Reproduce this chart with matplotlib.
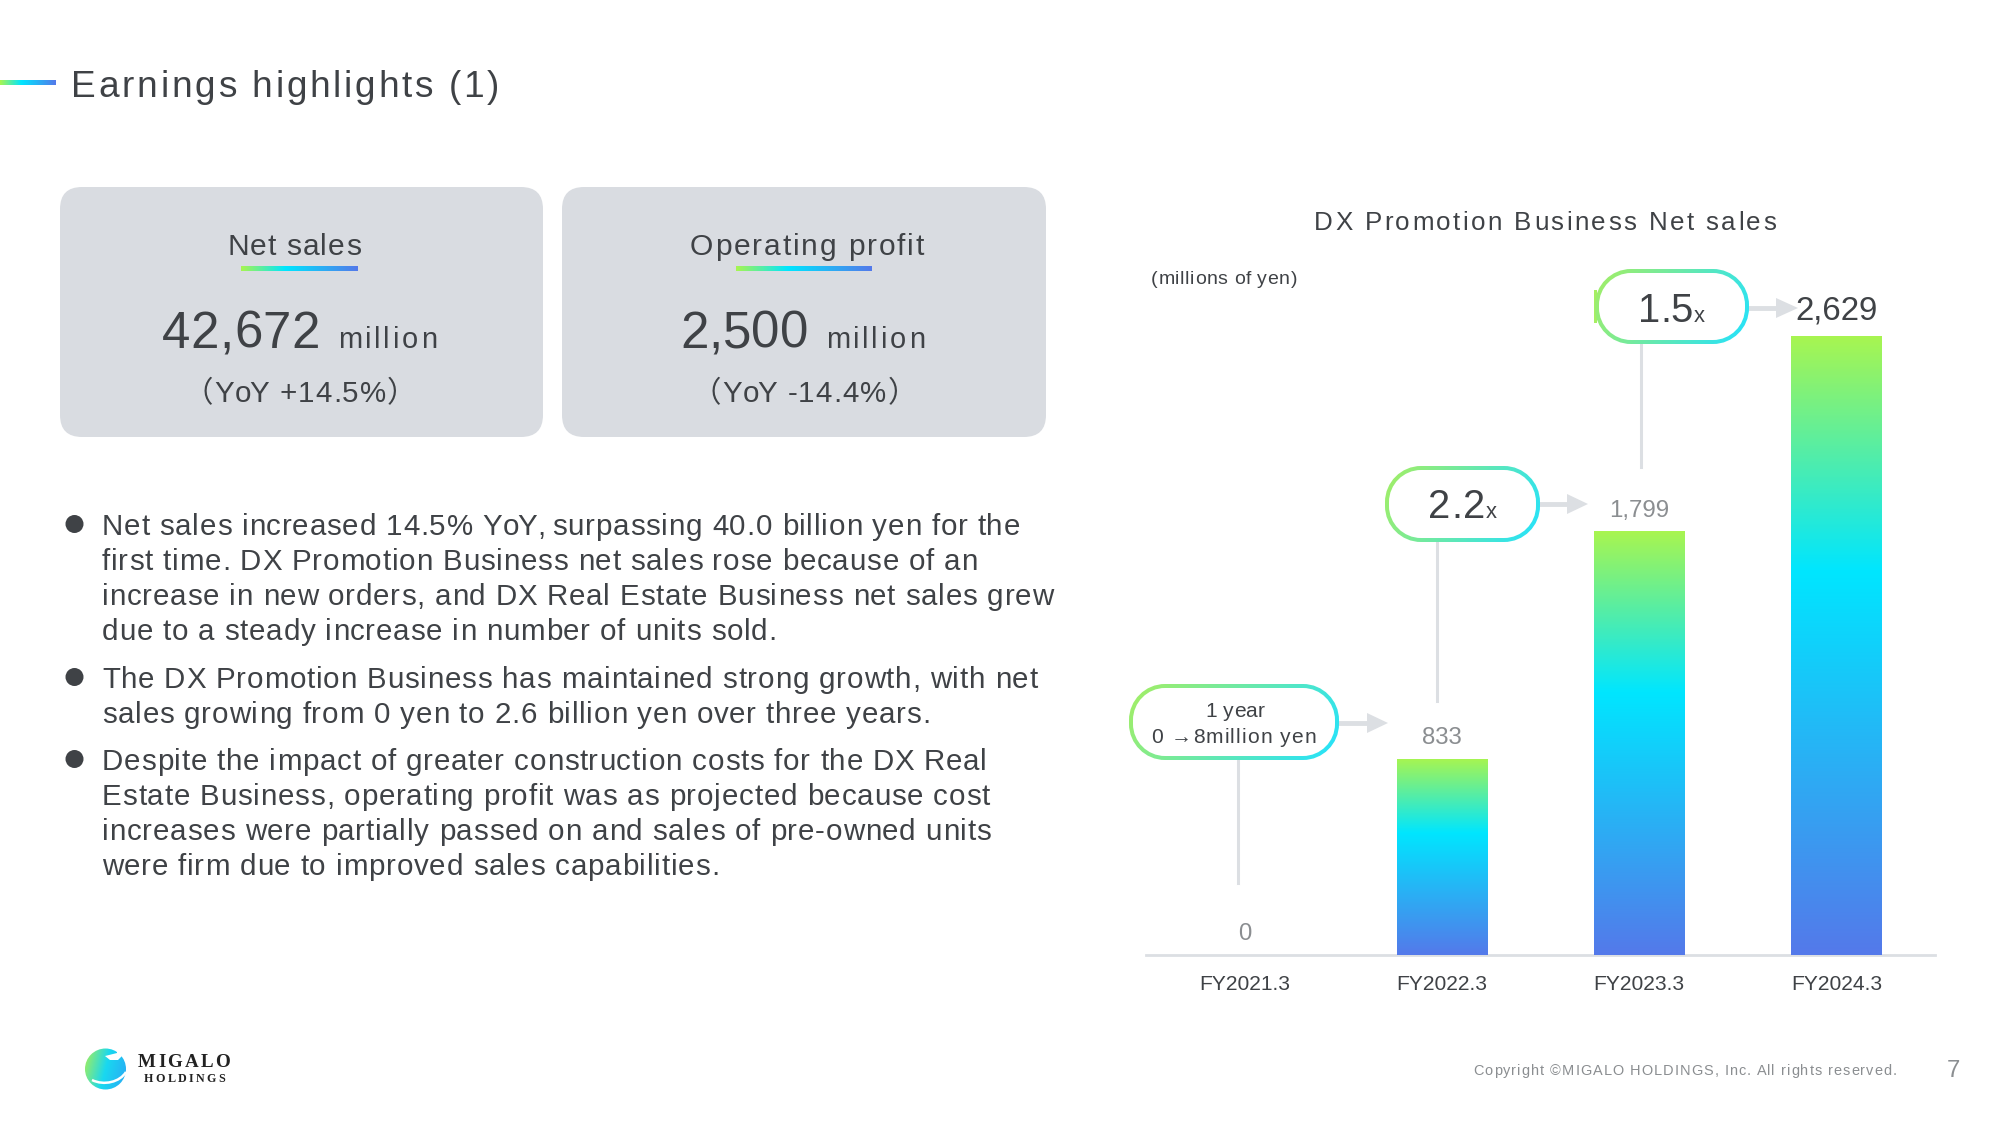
#!/usr/bin/env python3
"""
Earnings highlights slide: DX Promotion net sales bars plus the text panels
Layout is worked out in slide pixels (2000x1125), the bars use their own axes
"""
import numpy as np
import matplotlib
matplotlib.use('Agg')
import matplotlib.pyplot as plt
from matplotlib.colors import LinearSegmentedColormap
from matplotlib.patches import FancyBboxPatch, Circle, Polygon, PathPatch
from matplotlib.path import Path
from matplotlib.text import Text
from matplotlib.transforms import IdentityTransform

# chart data
years = ['FY2021.3', 'FY2022.3', 'FY2023.3', 'FY2024.3']
net_sales = [0, 833, 1799, 2629]
sales_labels = ['0', '833', '1,799', '2,629']

# slide text
title = 'Earnings highlights (1)'
chart_title = 'DX Promotion Business Net sales'
unit_label = '(millions of yen)'
copyright_text = 'Copyright ©MIGALO HOLDINGS, Inc. All rights reserved.'
page_no = '7'
bullet_lines = [
    ['Net sales increased 14.5% YoY, surpassing 40.0 billion yen for the',
     'first time. DX Promotion Business net sales rose because of an',
     'increase in new orders, and DX Real Estate Business net sales grew',
     'due to a steady increase in number of units sold.'],
    ['The DX Promotion Business has maintained strong growth, with net',
     'sales growing from 0 yen to 2.6 billion yen over three years.'],
    ['Despite the impact of greater construction costs for the DX Real',
     'Estate Business, operating profit was as projected because cost',
     'increases were partially passed on and sales of pre-owned units',
     'were firm due to improved sales capabilities.'],
]

DARK = '#3f4246'
GREY = '#8b8e91'
PALE = '#dcdfe3'
CARD = '#d9dce1'
FONT = 'Liberation Sans'

rainbow = LinearSegmentedColormap.from_list(
    'rainbow', [(0, '#a8f550'), (0.38, '#00e6ff'), (1, '#5479ea')])
edge_map = LinearSegmentedColormap.from_list('edge', ['#a6ef62', '#22e2ff'])


def px(size):
    # font size from slide pixels
    return size * 0.72


class TrackedText(Text):
    """Text with letter spacing, the slide font is set with wide tracking"""

    def __init__(self, *args, track=0, width=None, **kwargs):
        super().__init__(*args, **kwargs)
        self.track = track
        self.width = width

    def draw(self, renderer):
        s = self.get_text()
        prop = self.get_fontproperties()

        def measure(t):
            return renderer.get_text_width_height_descent(t, prop, False)[0]

        gap = self.track
        if self.width is not None:
            gap = (self.width - measure(s)) / (len(s) - 1)
        total = measure(s) + gap * (len(s) - 1)
        x, y = self.get_transform().transform(self.get_position())
        if self.get_horizontalalignment() == 'center':
            x -= total / 2
        bar_w = measure('|')
        for i, ch in enumerate(s):
            # the bar keeps trailing spaces in the measured width
            offset = measure(s[:i] + '|') - bar_w if i else 0
            piece = Text(x + offset + i * gap, y, ch, fontproperties=prop, color=self.get_color(),
                         ha='left', va='baseline', transform=IdentityTransform())
            piece.set_figure(self.get_figure())
            piece.draw(renderer)


fig = plt.figure(figsize=(20, 11.25), dpi=100, facecolor='white')

# overlay in slide pixels
bg = fig.add_axes([0, 0, 1, 1], zorder=0)
bg.set_xlim(0, 2000)
bg.set_ylim(1125, 0)
bg.axis('off')
bg.autoscale(False)


def gradient(ax, x0, x1, y0, y1, cmap, clip=None, diag=False, zorder=2):
    u = np.linspace(0, 1, 256)
    if diag:
        uu, vv = np.meshgrid(u, u)
        arr = (uu * 0.8 + vv * 0.2)
    else:
        arr = u[np.newaxis, :]
    im = ax.imshow(arr, extent=[x0, x1, y1, y0], cmap=cmap, vmin=0, vmax=1,
                   aspect='auto', zorder=zorder, interpolation='bilinear')
    if clip is not None:
        im.set_clip_path(clip)
    return im


def label(x, y, s, size, color=DARK, family=FONT, ha='left', width=None, track=0,
          weight='normal', zorder=4):
    t = TrackedText(x, y, s, fontsize=px(size), color=color, family=family, ha=ha,
                    va='baseline', weight=weight, zorder=zorder, width=width, track=track)
    bg.add_artist(t)
    return t


def pill(x0, x1, y0, y1, r, **kwargs):
    # rounded box with true circular corners, FancyBboxPatch corners come out too square
    k = r * 0.45
    verts = [(x0 + r, y0), (x1 - r, y0),
             (x1 - k, y0), (x1, y0 + k), (x1, y0 + r), (x1, y1 - r),
             (x1, y1 - k), (x1 - k, y1), (x1 - r, y1), (x0 + r, y1),
             (x0 + k, y1), (x0, y1 - k), (x0, y1 - r), (x0, y0 + r),
             (x0, y0 + k), (x0 + k, y0), (x0 + r, y0), (x0 + r, y0)]
    codes = [Path.MOVETO, Path.LINETO] + [Path.CURVE4] * 3 + [Path.LINETO] \
        + [Path.CURVE4] * 3 + [Path.LINETO] + [Path.CURVE4] * 3 + [Path.LINETO] \
        + [Path.CURVE4] * 3 + [Path.CLOSEPOLY]
    return PathPatch(Path(verts, codes), linewidth=0, **kwargs)


# heading
gradient(bg, 0, 56, 80, 85, rainbow)
label(71, 97, title, 37, width=428)

# the two cards
cards = [
    (60, 543, 294, 134, 241, 358, 'Net sales', '42,672', 162, 158, 338, 300, '（YoY +14.5%）'),
    (562, 1046, 807, 234, 736, 872, 'Operating profit', '2,500', 680, 128, 826, 804, '（YoY -14.4%）'),
]
for x0, x1, xc, w_name, u0, u1, name, value, xv, w_value, xm, xy, yoy in cards:
    bg.add_patch(FancyBboxPatch((x0, 187), x1 - x0, 250, linewidth=0, facecolor=CARD,
                                boxstyle='round,pad=0,rounding_size=22', zorder=1))
    label(xc, 255, name, 30, ha='center', width=w_name)
    gradient(bg, u0, u1, 266, 271, rainbow)
    label(xv, 348, value, 51, width=w_value)
    label(xm, 348, 'million', 29, width=99)
    label(xy, 402, yoy, 29.5, ha='center', family=[FONT, 'Noto Sans CJK JP'], track=1.1)

# bullets
y_first_line = [535, 688, 770]
for y_first, lines in zip(y_first_line, bullet_lines):
    bg.add_patch(Circle((74.5, y_first - 11), 9, facecolor=DARK, linewidth=0))
    for i, line in enumerate(lines):
        label(102, y_first + i * 35, line, 29.5, track=0.8)

# footer
logo_disc = Circle((105.5, 1069), 20.5, transform=bg.transData)
logo_map = LinearSegmentedColormap.from_list('logo', ['#a8f055', '#19d8f0', '#2aa9f5'])
gradient(bg, 85, 126, 1048, 1090, logo_map, clip=logo_disc, diag=True)
bg.add_patch(Polygon([[105, 1056], [117, 1053], [117, 1045], [122, 1050], [123, 1055],
                      [118, 1060], [110, 1060]], facecolor='white', linewidth=0, zorder=3))
swoosh = Path([(92, 1080), (104, 1086), (120, 1082), (126, 1072)],
              [Path.MOVETO, Path.CURVE4, Path.CURVE4, Path.CURVE4])
bg.add_patch(PathPatch(swoosh, facecolor='none', edgecolor='white', linewidth=1.8, zorder=3))
label(138, 1067, 'MIGALO', 19, color='#222222', family='Liberation Serif', weight='bold', width=92)
label(144, 1082, 'HOLDINGS', 12, color='#222222', family='Liberation Serif', weight='bold', width=81)
label(1473, 1075, copyright_text, 14.5, color=GREY, width=424)
label(1947, 1077, page_no, 24, color=GREY)

# bar chart, 0 at y=955
ax = fig.add_axes([1146 / 2000, (1125 - 955) / 1125, 789 / 2000, 706.5 / 1125], zorder=1)
ax.patch.set_alpha(0)
pos = np.arange(len(years))
bars = ax.bar(pos, net_sales, width=0.46, color='#19d8f0', linewidth=0)
for bar, value in zip(bars, net_sales):
    if value > 0:
        left = bar.get_x()
        im = ax.imshow(np.linspace(0, 1, 256)[:, np.newaxis], cmap=rainbow, aspect='auto',
                       extent=[left, left + bar.get_width(), 0, value], zorder=3)
        im.set_clip_path(bar)
ax.set_xlim(-0.5, 3.5)
ax.set_ylim(0, 3000)
ax.set_yticks([])
ax.set_xticks(pos)
ax.set_xticklabels(years, fontsize=px(21), color=DARK, family=FONT)
ax.tick_params(axis='x', length=0, pad=14.5)
for side in ['top', 'left', 'right']:
    ax.spines[side].set_visible(False)
ax.spines['bottom'].set_color(PALE)
ax.spines['bottom'].set_linewidth(2)

# value labels, the latest year is set larger
for i, (value, text) in enumerate(zip(net_sales, sales_labels)):
    last = i == len(net_sales) - 1
    ax.annotate(text, (pos[i], value), xytext=(0, 11.5 if last else 10.5),
                textcoords='offset points', ha='center', va='baseline', family=FONT,
                fontsize=px(33 if last else 24), color=DARK if last else GREY, zorder=4)

label(1314, 230, chart_title, 26, width=462)
label(1151, 284, unit_label, 19.5, width=146)

# callouts: box, connector to the bar below, arrow to the value
callouts = [
    (1129, 1339, 684, 760, 1238, 883, 1367, 1388, 723),
    (1385, 1540, 466, 542, 1437, 701, 1567, 1588, 504),
    (1595, 1749, 269, 344, 1641, 467, 1776, 1798, 308),
]
for x0, x1, y0, y1, x_conn, y_conn, x_base, x_tip, y_arrow in callouts:
    bg.plot([x_conn, x_conn], [y1, y_conn], color=PALE, linewidth=2.2, zorder=1)
    bg.plot([x1, x_base], [y_arrow, y_arrow], color=PALE, linewidth=3.5, zorder=1)
    bg.add_patch(Polygon([[x_base, y_arrow - 10], [x_tip, y_arrow], [x_base, y_arrow + 10]],
                         facecolor=PALE, linewidth=0, zorder=1))
    outer = pill(x0, x1, y0, y1, 36, facecolor='none', zorder=2)
    bg.add_patch(outer)
    gradient(bg, x0, x1, y0, y1, edge_map, clip=outer, diag=True, zorder=2)
    bg.add_patch(pill(x0 + 4, x1 - 4, y0 + 4, y1 - 4, 32, facecolor='white', zorder=3))

# small stub left of the top callout
bg.add_patch(plt.Rectangle((1594, 290), 3, 33, facecolor='#a6ef62', linewidth=0, zorder=1))

label(1235, 717, '1 year', 21, ha='center')
label(1151, 743, '0 →8million yen', 21, width=165)
label(1428, 518, '2.2', 40, width=57)
label(1486, 518, 'x', 22)
label(1638, 322, '1.5', 40, width=55)
label(1694, 322, 'x', 22)

fig.savefig('out.png', dpi=100, facecolor='white')
